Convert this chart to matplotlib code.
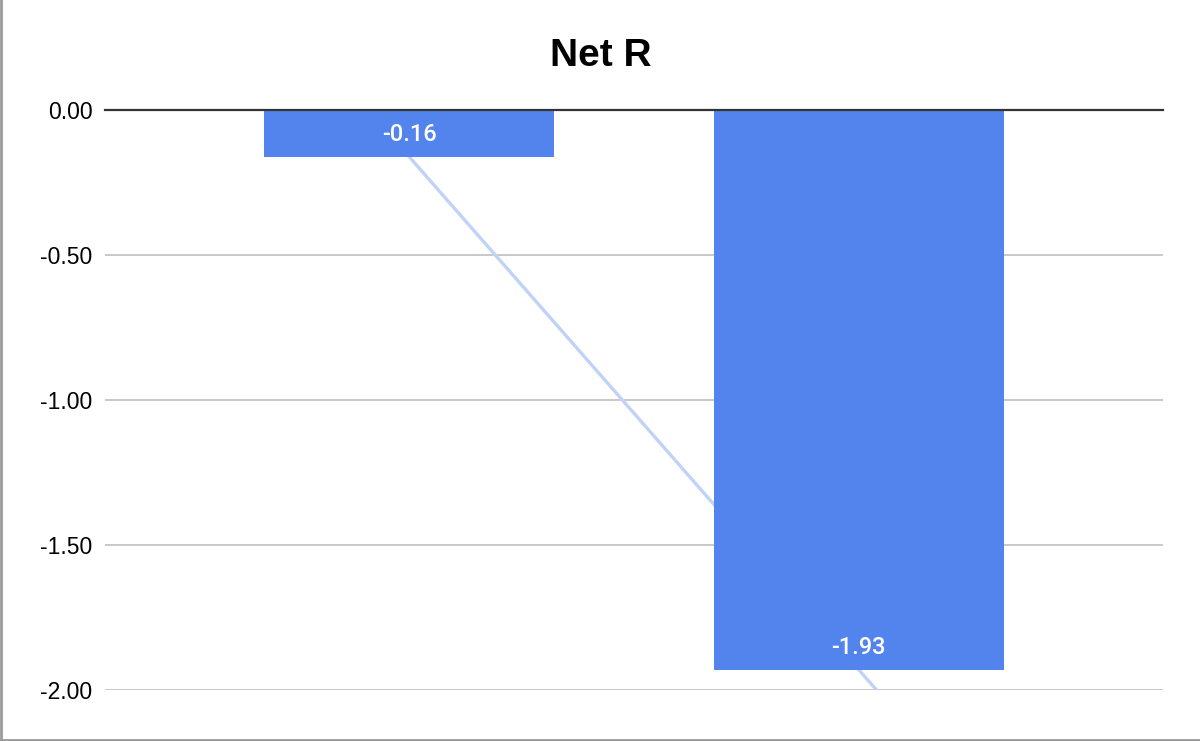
import numpy as np
import matplotlib
matplotlib.use("Agg")
import matplotlib.pyplot as plt
from matplotlib.lines import Line2D

plt.rcParams['axes.unicode_minus'] = False

# data
categories = ["A", "B"]
net_r = [-0.16, -1.93]
yticks = [0.0, -0.5, -1.0, -1.5, -2.0]

bar_color = "#5383ec"
trend_color = "#c0d3f7"

fig = plt.figure(figsize=(12, 7.41), dpi=100)
ax = fig.add_axes([0.0875, 0.0688, 0.8817, 0.7821])

x = np.arange(len(categories))
bars = ax.bar(x, net_r, width=0.645, color=bar_color, zorder=3)

# linear trendline behind the bars
slope, icpt = np.polyfit(x, net_r, 1)
tx = np.array([-0.7, 1.7])
ax.plot(tx, slope * tx + icpt, color=trend_color, lw=2.4, zorder=2)

for xi, v in zip(x, net_r):
    ax.annotate(f"{v:.2f}", (xi, v), xytext=(0, 16), textcoords="offset points",
                ha="center", va="center", color="white", fontsize=17,
                family="Roboto", fontweight="medium", zorder=4)

ax.set_xlim(-0.677, 1.677)
ax.set_ylim(-2.0, 0.0)
ax.set_yticks(yticks)
ax.set_yticklabels([f"{t:.2f}" for t in yticks], family="Liberation Sans", fontsize=16.5)
ax.set_xticks([])
ax.tick_params(axis="y", length=0, pad=9)
ax.grid(axis="y", color="#c8c8c8", lw=1.4, zorder=0)
ax.axhline(0, color="#333333", lw=1.6, zorder=5, clip_on=False)
for s in ax.spines.values():
    s.set_visible(False)

fig.text(0.501, 0.925, "Net R", ha="center", va="center", fontsize=28,
         fontweight="bold", family="Liberation Sans")

# screenshot border on left and bottom
fig.add_artist(Line2D([0.001, 0.001], [0, 1], transform=fig.transFigure, color="#9a9a9a", lw=2))
fig.add_artist(Line2D([0, 1], [0.0015, 0.0015], transform=fig.transFigure, color="#9a9a9a", lw=2))

fig.savefig("out.png", dpi=100)
